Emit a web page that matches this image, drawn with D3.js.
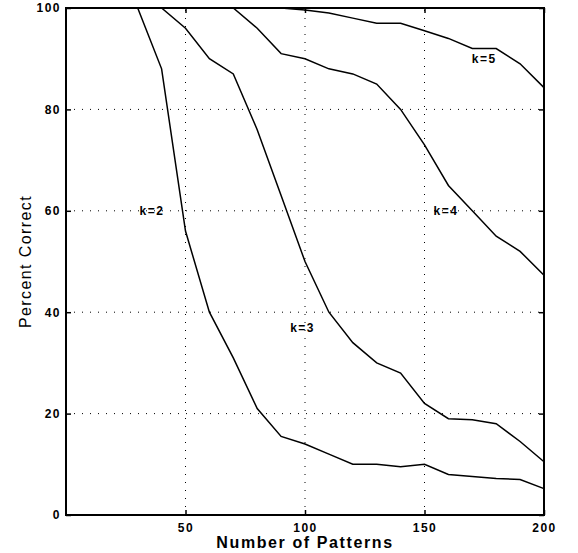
<!DOCTYPE html>
<meta charset="utf-8">
<script src="https://cdn.jsdelivr.net/npm/d3@7"></script>
<style>
    body { margin: 0; background: #fff; }
    text { font-family: "Liberation Sans", Arial, sans-serif; fill: #000; }
    .tick text { font-size: 12px; font-weight: bold; letter-spacing: 1.5px; fill: #000; }
    path.curve { fill: none; stroke: #000; stroke-width: 1.5px; }
    line.grid { stroke: #000; stroke-width: 1px; stroke-dasharray: 1, 7; }
</style>
<body>
<script>
    // number of patterns sampled
    var patterns = [10, 20, 30, 40, 50, 60, 70, 80, 90, 100, 110, 120, 130, 140, 150, 160, 170, 180, 190, 200];

    // percent correct for each k
    var k2 = [100, 100, 100, 88, 56, 40, 31, 21, 15.5, 14, 12, 10, 10, 9.5, 10, 8, 7.6, 7.2, 7, 5.2];
    var k3 = [100, 100, 100, 100, 96, 90, 87, 76, 63, 50, 40, 34, 30, 28, 22, 19, 18.8, 18, 14.5, 10.5];
    var k4 = [100, 100, 100, 100, 100, 100, 100, 96, 91, 90, 88, 87, 85, 80, 73, 65, 60, 55, 52, 47.3];
    var k5 = [100, 100, 100, 100, 100, 100, 100, 100, 100, 99.6, 99, 98, 97, 97, 95.5, 94, 92, 92, 89, 84.3];

    var curves = [
        { name: "k=2", values: k2, lx: 36, ly: 60 },
        { name: "k=3", values: k3, lx: 99, ly: 37 },
        { name: "k=4", values: k4, lx: 159, ly: 60 },
        { name: "k=5", values: k5, lx: 175, ly: 90 }
    ];

    var xTicks = [50, 100, 150, 200];
    var yTicks = [0, 20, 40, 60, 80, 100];

    var width = 578,
        height = 553;
    var margin = { left: 66, right: 34, top: 8, bottom: 38 };

    var svg = d3.select("body").append("svg")
        .attr("width", width)
        .attr("height", height);

    var x = d3.scaleLinear().domain([0, 200]).range([margin.left, width - margin.right]);
    var y = d3.scaleLinear().domain([0, 100]).range([height - margin.bottom, margin.top]);

    // dotted grid
    svg.append("g").selectAll("line")
        .data([50, 100, 150])
        .enter().append("line")
        .attr("class", "grid")
        .attr("x1", d => x(d)).attr("x2", d => x(d))
        .attr("y1", y(0)).attr("y2", y(100));

    svg.append("g").selectAll("line")
        .data([20, 40, 60, 80])
        .enter().append("line")
        .attr("class", "grid")
        .attr("y1", d => y(d)).attr("y2", d => y(d))
        .attr("x1", x(0)).attr("x2", x(200));

    // axes with inward ticks
    var xAxis = svg.append("g")
        .attr("transform", "translate(0," + y(0) + ")")
        .call(d3.axisBottom(x).tickValues(xTicks).tickSizeInner(-5).tickSizeOuter(0).tickPadding(10));
    var yAxis = svg.append("g")
        .attr("transform", "translate(" + x(0) + ",0)")
        .call(d3.axisLeft(y).tickValues(yTicks).tickSizeInner(-5).tickSizeOuter(0).tickPadding(5));
    svg.append("g")
        .attr("transform", "translate(0," + y(100) + ")")
        .call(d3.axisTop(x).tickValues(xTicks).tickSizeInner(-5).tickSizeOuter(0).tickFormat(""));
    svg.append("g")
        .attr("transform", "translate(" + x(200) + ",0)")
        .call(d3.axisRight(y).tickValues(yTicks).tickSizeInner(-5).tickSizeOuter(0).tickFormat(""));

    svg.selectAll(".domain").remove();
    svg.selectAll(".tick line").attr("stroke-width", 1.5);
    xAxis.selectAll(".tick text").attr("dy", "0.55em");

    // frame
    svg.append("rect")
        .attr("x", x(0)).attr("y", y(100))
        .attr("width", x(200) - x(0)).attr("height", y(0) - y(100))
        .attr("fill", "none").attr("stroke", "#000").attr("stroke-width", 2);

    var line = d3.line()
        .x((d, i) => x(patterns[i]))
        .y(d => y(d));

    svg.append("g").selectAll("path")
        .data(curves)
        .enter().append("path")
        .attr("class", "curve")
        .attr("d", d => line(d.values));

    svg.append("g").selectAll("text")
        .data(curves)
        .enter().append("text")
        .attr("x", d => x(d.lx))
        .attr("y", d => y(d.ly))
        .attr("dy", "0.35em")
        .style("text-anchor", "middle")
        .style("font-size", "12px")
        .style("font-weight", "bold")
        .style("letter-spacing", "1.5px")
        .text(d => d.name);

    // axis titles
    svg.append("text")
        .attr("x", (x(0) + x(200)) / 2)
        .attr("y", 548)
        .style("text-anchor", "middle")
        .style("font-size", "16px")
        .style("font-weight", "bold")
        .style("letter-spacing", "1.6px")
        .style("fill", "#000")
        .text("Number of Patterns");

    svg.append("text")
        .attr("transform", "translate(31," + ((y(0) + y(100)) / 2) + ") rotate(-90)")
        .style("text-anchor", "middle")
        .style("font-size", "16px")
        .style("letter-spacing", "1.4px")
        .style("fill", "#000")
        .text("Percent Correct");
</script>
</body>
